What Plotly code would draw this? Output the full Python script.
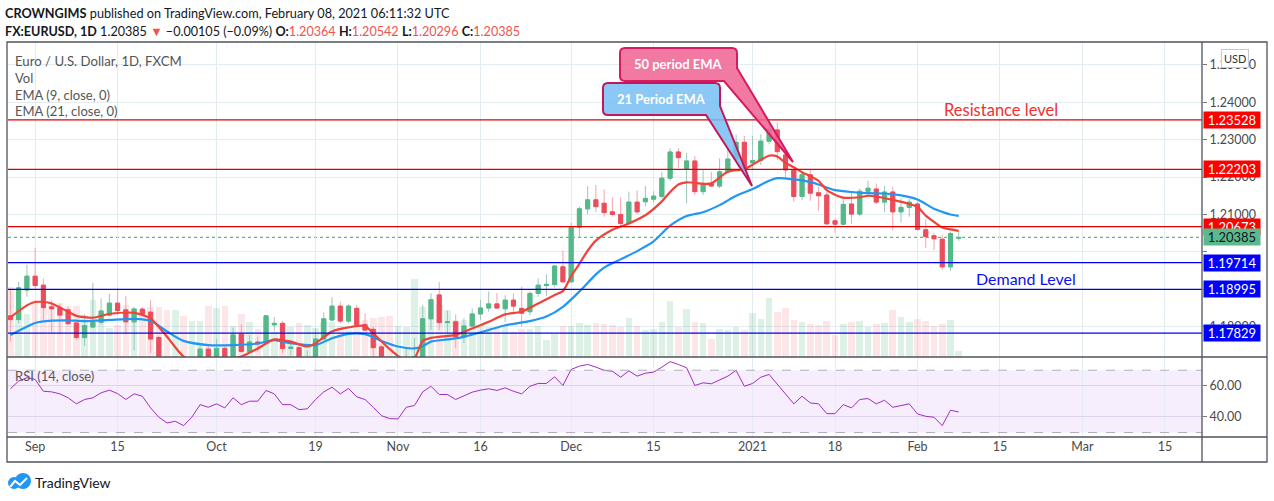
import pandas as pd
import plotly.graph_objects as go

# ---------------- DATA ----------------
holidays = ["2020-12-25", "2021-01-01"]
dates = [d.strftime("%Y-%m-%d") for d in pd.bdate_range("2020-08-27", "2021-02-08")
         if d.strftime("%Y-%m-%d") not in holidays]

opens = [
    1.1829, 1.1819, 1.1898,
    1.1935, 1.1911, 1.1853, 1.1850,
    1.1845, 1.1810, 1.1771, 1.1799, 1.1812,
    1.1831, 1.1863, 1.1845, 1.1813, 1.1847,
    1.1839, 1.1771, 1.1703, 1.1659, 1.1672,
    1.1631, 1.1667, 1.1740, 1.1721, 1.1742,
    1.1716, 1.1780, 1.1734, 1.1759, 1.1756,
    1.1805, 1.1809, 1.1742, 1.1744, 1.1706,
    1.1717, 1.1767, 1.1818, 1.1855, 1.1815,
    1.1849, 1.1806, 1.1793, 1.1746, 1.1675,
    1.1632, 1.1642, 1.1714, 1.1720, 1.1821,
    1.1885, 1.1811, 1.1813, 1.1773, 1.1802,
    1.1834, 1.1850, 1.1861, 1.1848, 1.1871,
    1.1849, 1.1840, 1.1889, 1.1910, 1.1913,
    1.1960, 1.1920, 1.2066, 1.2115, 1.2139,
    1.2130, 1.2107, 1.2100, 1.2076, 1.2133,
    1.2134, 1.2141, 1.2148, 1.2197, 1.2267,
    1.2221, 1.2243, 1.2161, 1.2182,
    1.2176, 1.2214, 1.2248, 1.2293,
    1.2238, 1.2244, 1.2296, 1.2326, 1.2259,
    1.2219, 1.2148, 1.2206, 1.2158, 1.2152,
    1.2083, 1.2074, 1.2128, 1.2101, 1.2162,
    1.2168, 1.2133, 1.2160, 1.2107, 1.2119,
    1.2128, 1.2059, 1.2043, 1.2034, 1.1960,
    1.20364]

highs = [
    1.1898, 1.1920, 1.1965,
    1.2011, 1.1928, 1.1871, 1.1861,
    1.1853, 1.1818, 1.1833, 1.1917, 1.1876,
    1.1887, 1.1903, 1.1882, 1.1853, 1.1853,
    1.1871, 1.1776, 1.1719, 1.1688, 1.1686,
    1.1681, 1.1748, 1.1751, 1.1767, 1.1748,
    1.1797, 1.1807, 1.1778, 1.1773, 1.1831,
    1.1826, 1.1815, 1.1764, 1.1750, 1.1736,
    1.1796, 1.1838, 1.1879, 1.1867, 1.1860,
    1.1858, 1.1836, 1.1800, 1.1750, 1.1707,
    1.1670, 1.1745, 1.1770, 1.1858, 1.1889,
    1.1919, 1.1842, 1.1833, 1.1822, 1.1849,
    1.1872, 1.1894, 1.1890, 1.1884, 1.1889,
    1.1907, 1.1894, 1.1929, 1.1940, 1.1965,
    1.2003, 1.2078, 1.2121, 1.2176, 1.2179,
    1.2167, 1.2146, 1.2146, 1.2161, 1.2164,
    1.2176, 1.2162, 1.2214, 1.2277, 1.2277,
    1.2264, 1.2256, 1.2219, 1.2214,
    1.2250, 1.2274, 1.2313, 1.2310,
    1.2310, 1.2315, 1.2349, 1.2345, 1.2268,
    1.2225, 1.2212, 1.2222, 1.2174, 1.2160,
    1.2090, 1.2146, 1.2157, 1.2169, 1.2190,
    1.2183, 1.2176, 1.2174, 1.2143, 1.2141,
    1.2135, 1.2087, 1.2051, 1.2046, 1.2054,
    1.20542]

lows = [
    1.1760, 1.1809, 1.1880,
    1.1898, 1.1818, 1.1787, 1.1780,
    1.1805, 1.1764, 1.1749, 1.1796, 1.1805,
    1.1827, 1.1831, 1.1782, 1.1737, 1.1827,
    1.1729, 1.1684, 1.1647, 1.1627, 1.1612,
    1.1625, 1.1660, 1.1683, 1.1713, 1.1695,
    1.1706, 1.1730, 1.1729, 1.1732, 1.1751,
    1.1787, 1.1729, 1.1724, 1.1688, 1.1690,
    1.1703, 1.1760, 1.1815, 1.1809, 1.1809,
    1.1800, 1.1787, 1.1717, 1.1650, 1.1640,
    1.1622, 1.1640, 1.1603, 1.1711, 1.1791,
    1.1791, 1.1782, 1.1742, 1.1756, 1.1798,
    1.1818, 1.1840, 1.1848, 1.1813, 1.1836,
    1.1800, 1.1830, 1.1880, 1.1882, 1.1905,
    1.1918, 1.1918, 1.2039, 1.2101, 1.2107,
    1.2094, 1.2094, 1.2067, 1.2072, 1.2100,
    1.2121, 1.2132, 1.2143, 1.2190, 1.2224,
    1.2130, 1.2152, 1.2152, 1.2173,
    1.2170, 1.2210, 1.2244, 1.2216,
    1.2220, 1.2232, 1.2288, 1.2246, 1.2197,
    1.2134, 1.2138, 1.2137, 1.2110, 1.2072,
    1.2051, 1.2070, 1.2075, 1.2095, 1.2149,
    1.2128, 1.2107, 1.2057, 1.2078, 1.2094,
    1.2057, 1.2010, 1.2005, 1.1952, 1.1950,
    1.20296]

closes = [
    1.1819, 1.1904, 1.1935,
    1.1910, 1.1851, 1.1848, 1.1831,
    1.1808, 1.1771, 1.1803, 1.1812, 1.1842,
    1.1863, 1.1843, 1.1813, 1.1847, 1.1833,
    1.1767, 1.1703, 1.1659, 1.1672, 1.1631,
    1.1667, 1.1740, 1.1721, 1.1742, 1.1716,
    1.1778, 1.1734, 1.1759, 1.1754, 1.1829,
    1.1809, 1.1742, 1.1745, 1.1706, 1.1717,
    1.1767, 1.1821, 1.1855, 1.1815, 1.1855,
    1.1805, 1.1791, 1.1744, 1.1675, 1.1646,
    1.1642, 1.1714, 1.1720, 1.1821, 1.1872,
    1.1811, 1.1813, 1.1773, 1.1802, 1.1834,
    1.1850, 1.1861, 1.1850, 1.1871, 1.1855,
    1.1836, 1.1889, 1.1911, 1.1913, 1.1962,
    1.1920, 1.2066, 1.2115, 1.2139, 1.2121,
    1.2105, 1.2100, 1.2076, 1.2133, 1.2107,
    1.2143, 1.2149, 1.2197, 1.2267, 1.2252,
    1.2243, 1.2161, 1.2183, 1.2176,
    1.2214, 1.2248, 1.2293, 1.2218,
    1.2244, 1.2296, 1.2328, 1.2268, 1.2219,
    1.2148, 1.2206, 1.2157, 1.2150, 1.2075,
    1.2074, 1.2127, 1.2101, 1.2162, 1.2170,
    1.2133, 1.2160, 1.2107, 1.2119, 1.2133,
    1.2060, 1.2041, 1.2035, 1.1960, 1.2049,
    1.20385]

volume = [
    70, 48, 43,
    57, 49, 54, 54,
    51, 51, 42, 57, 35,
    29, 32, 52, 49, 47,
    50, 50, 47, 47, 41,
    36, 36, 51, 49, 51,
    31, 43, 35, 28, 37,
    25, 34, 30, 34, 32,
    29, 35, 35, 31, 27,
    29, 37, 39, 40, 41,
    31, 30, 78, 50, 45,
    52, 47, 37, 37, 34,
    32, 30, 30, 32, 25,
    28, 28, 31, 17, 23,
    31, 31, 34, 32, 34,
    33, 32, 30, 39, 31,
    27, 28, 35, 56, 30,
    48, 35, 34, 18,
    28, 27, 30, 27,
    44, 38, 59, 45, 49,
    37, 35, 33, 32, 36,
    22, 33, 35, 36, 30,
    33, 34, 47, 40, 35,
    38, 36, 31, 33, 37,
    6]

rsi = [
    58.1, 63.0, 65.2,
    64.1, 56.5, 56.1, 54.8,
    52.3, 48.4, 51.2, 52.3, 55.5,
    57.2, 55.0, 51.2, 54.8, 53.3,
    45.8, 39.8, 36.1, 37.2, 34.4,
    39.8, 47.9, 46.2, 48.4, 45.8,
    52.3, 47.9, 50.1, 50.1, 57.0,
    54.8, 47.9, 47.9, 44.7, 45.2,
    51.2, 56.1, 59.1, 54.8, 58.3,
    52.9, 51.2, 46.2, 40.8, 38.9,
    38.7, 46.2, 47.3, 56.1, 59.7,
    54.4, 54.4, 51.2, 53.3, 55.9,
    57.2, 58.1, 57.0, 58.7, 56.5,
    54.8, 59.7, 61.5, 61.5, 65.8,
    60.2, 70.5, 72.6, 73.7, 72.0,
    69.9, 69.4, 65.5, 69.6, 66.2,
    68.1, 68.8, 72.0, 75.5, 73.7,
    71.6, 60.2, 61.9, 61.3,
    63.6, 66.2, 69.9, 59.7,
    61.5, 65.5, 67.3, 60.8, 55.0,
    48.4, 53.3, 49.0, 48.4, 42.1,
    42.1, 47.9, 45.8, 51.2, 51.8,
    48.4, 50.7, 46.2, 47.3, 48.4,
    41.9, 40.4, 39.8, 34.4, 44.3,
    43.2]

ema9_dates = ["2020-08-27", "2020-08-31", "2020-09-01", "2020-09-02", "2020-09-03", "2020-09-07",
              "2020-09-08", "2020-09-10", "2020-09-14", "2020-09-17", "2020-09-21", "2020-09-23",
              "2020-09-25", "2020-09-29", "2020-10-01", "2020-10-05", "2020-10-06", "2020-10-08",
              "2020-10-12", "2020-10-14", "2020-10-16", "2020-10-19", "2020-10-21", "2020-10-23",
              "2020-10-27", "2020-10-28", "2020-10-30", "2020-11-02", "2020-11-03", "2020-11-04",
              "2020-11-05", "2020-11-06", "2020-11-09", "2020-11-11", "2020-11-13", "2020-11-17",
              "2020-11-19", "2020-11-23", "2020-11-25", "2020-11-27", "2020-11-30", "2020-12-01",
              "2020-12-02", "2020-12-03", "2020-12-04", "2020-12-08", "2020-12-10", "2020-12-14",
              "2020-12-16", "2020-12-17", "2020-12-18", "2020-12-21", "2020-12-23", "2020-12-24",
              "2020-12-29", "2020-12-31", "2021-01-04", "2021-01-05", "2021-01-06", "2021-01-07",
              "2021-01-08", "2021-01-11", "2021-01-12", "2021-01-13", "2021-01-14", "2021-01-15",
              "2021-01-18", "2021-01-19", "2021-01-21", "2021-01-22", "2021-01-25", "2021-01-27",
              "2021-01-29", "2021-02-01", "2021-02-02", "2021-02-03", "2021-02-04", "2021-02-05",
              "2021-02-08"]
ema9_vals = [1.1825, 1.1857, 1.1866, 1.1866, 1.1862, 1.1840, 1.1829, 1.1824, 1.1834, 1.1837,
             1.1822, 1.1773, 1.1720, 1.1700, 1.1706, 1.1716, 1.1720, 1.1742, 1.1766, 1.1760,
             1.1747, 1.1756, 1.1787, 1.1798, 1.1802, 1.1782, 1.1740, 1.1722, 1.1712, 1.1716,
             1.1762, 1.1770, 1.1773, 1.1778, 1.1795, 1.1813, 1.1833, 1.1840, 1.1862, 1.1885,
             1.1895, 1.1935, 1.1968, 1.2003, 1.2030, 1.2059, 1.2076, 1.2098, 1.2135, 1.2160,
             1.2180, 1.2186, 1.2182, 1.2183, 1.2214, 1.2221, 1.2233, 1.2246, 1.2257, 1.2255,
             1.2238, 1.2226, 1.2213, 1.2202, 1.2190, 1.2165, 1.2153, 1.2145, 1.2146, 1.2150,
             1.2148, 1.2139, 1.2128, 1.2120, 1.2097, 1.2080, 1.2065, 1.2060, 1.2056]

ema21_dates = ["2020-08-27", "2020-08-31", "2020-09-01", "2020-09-03", "2020-09-07", "2020-09-09",
               "2020-09-14", "2020-09-17", "2020-09-21", "2020-09-23", "2020-09-25", "2020-09-30",
               "2020-10-05", "2020-10-08", "2020-10-12", "2020-10-14", "2020-10-19", "2020-10-21",
               "2020-10-23", "2020-10-27", "2020-10-29", "2020-11-02", "2020-11-04", "2020-11-05",
               "2020-11-06", "2020-11-10", "2020-11-12", "2020-11-17", "2020-11-19", "2020-11-24",
               "2020-11-26", "2020-11-30", "2020-12-02", "2020-12-04", "2020-12-07", "2020-12-09",
               "2020-12-11", "2020-12-15", "2020-12-17", "2020-12-21", "2020-12-23", "2020-12-28",
               "2020-12-30", "2021-01-04", "2021-01-06", "2021-01-07", "2021-01-11", "2021-01-13",
               "2021-01-14", "2021-01-15", "2021-01-18", "2021-01-20", "2021-01-22", "2021-01-26",
               "2021-01-28", "2021-02-01", "2021-02-02", "2021-02-03", "2021-02-04", "2021-02-05",
               "2021-02-08"]
ema21_vals = [1.1778, 1.1800, 1.1810, 1.1816, 1.1817, 1.1815, 1.1818, 1.1821, 1.1816, 1.1787,
              1.1762, 1.1751, 1.1751, 1.1755, 1.1764, 1.1756, 1.1751, 1.1769, 1.1781, 1.1780,
              1.1762, 1.1747, 1.1742, 1.1748, 1.1760, 1.1766, 1.1773, 1.1791, 1.1804, 1.1815,
              1.1827, 1.1853, 1.1894, 1.1940, 1.1958, 1.1980, 1.2002, 1.2028, 1.2070, 1.2096,
              1.2106, 1.2125, 1.2150, 1.2168, 1.2190, 1.2197, 1.2194, 1.2187, 1.2180, 1.2172,
              1.2165, 1.2160, 1.2157, 1.2156, 1.2151, 1.2140, 1.2128, 1.2115, 1.2107, 1.2100,
              1.2096]

resistance_levels = [1.23528, 1.22203, 1.20673]
demand_levels = [1.19714, 1.18995, 1.17829]
last_price = 1.20385

price_ticks = [1.18, 1.19, 1.20, 1.21, 1.22, 1.23, 1.24, 1.25]
price_tick_text = ["1.18000", "", "", "1.21000", "1.22000", "1.23000", "1.24000", "1.25000"]
x_tick_dates = ["2020-09-01", "2020-09-15", "2020-10-01", "2020-10-19", "2020-11-02", "2020-11-16",
                "2020-12-01", "2020-12-15", "2021-01-04", "2021-01-18", "2021-02-01", "2021-02-15",
                "2021-03-01", "2021-03-15"]
x_tick_text = ["Sep", "15", "Oct", "19", "Nov", "16", "Dec", "15", "2021", "18", "Feb", "15", "Mar", "15"]

assert len(dates) == len(opens) == len(highs) == len(lows) == len(closes) == len(volume) == len(rsi)

# ---------------- STYLE ----------------
FONT = "Lato, 'Open Sans', sans-serif"
UP, DOWN = "#53b987", "#eb4d5c"
UP_WICK, DOWN_WICK = "#9cc5bc", "#f4a3aa"
GRID = "#e3ecf1"
FRAME = "#50535e"
TXT = "#4a4a4a"

W, H = 1274, 501
ML, MR, MT, MB = 8, 72, 42, 64


def PX(px):
    return (px - ML) / (W - ML - MR)


def PY(py):
    return (H - MB - py) / (H - MT - MB)


rsi_top = PY(357)
x_range = ["2020-08-26 17:00", "2021-03-19 12:00"]
rbreaks = [dict(bounds=["sat", "mon"]), dict(values=holidays)]

fig = go.Figure()

vol_colors = ["rgba(83,185,135,0.2)" if c >= o else "rgba(235,77,92,0.14)" for o, c in zip(opens, closes)]
fig.add_trace(go.Bar(x=dates, y=volume, marker=dict(color=vol_colors, line=dict(width=0)),
                     width=0.8 * 86400000, xaxis="x", yaxis="y", hoverinfo="skip"))

fig.add_trace(go.Candlestick(x=dates, open=opens, high=highs, low=lows, close=closes,
                             xaxis="x", yaxis="y3", hoverinfo="skip",
                             increasing=dict(line=dict(color=UP_WICK, width=1), fillcolor=UP_WICK),
                             decreasing=dict(line=dict(color=DOWN_WICK, width=1), fillcolor=DOWN_WICK)))
body_hi = [max(o, c) for o, c in zip(opens, closes)]
body_lo = [min(o, c) for o, c in zip(opens, closes)]
fig.add_trace(go.Candlestick(x=dates, open=opens, high=body_hi, low=body_lo, close=closes,
                             xaxis="x", yaxis="y3", hoverinfo="skip",
                             increasing=dict(line=dict(color=UP, width=1), fillcolor=UP),
                             decreasing=dict(line=dict(color=DOWN, width=1), fillcolor=DOWN)))

fig.add_trace(go.Scatter(x=ema21_dates, y=ema21_vals, mode="lines", xaxis="x", yaxis="y3",
                         line=dict(color="#2196f3", width=2.2, shape="spline", smoothing=0.7),
                         hoverinfo="skip"))
fig.add_trace(go.Scatter(x=ema9_dates, y=ema9_vals, mode="lines", xaxis="x", yaxis="y3",
                         line=dict(color="#f0433a", width=2.2, shape="spline", smoothing=0.7),
                         hoverinfo="skip"))

fig.add_trace(go.Scatter(x=dates, y=rsi, mode="lines", xaxis="x2", yaxis="y2",
                         line=dict(color="#a02fbf", width=1), hoverinfo="skip"))

shapes = []
# RSI band
shapes.append(dict(type="rect", xref="paper", yref="y2", x0=0, x1=1, y0=30, y1=70,
                   fillcolor="rgba(170,80,235,0.10)", line=dict(width=0), layer="below"))
for lv in (70, 30):
    shapes.append(dict(type="line", xref="paper", yref="y2", x0=0, x1=1, y0=lv, y1=lv,
                       line=dict(color="#b3adbd", width=1, dash="dash")))
# last price dotted line
shapes.append(dict(type="line", xref="paper", yref="y3", x0=0, x1=1, y0=last_price, y1=last_price,
                   line=dict(color="#53b987", width=1.2, dash="dot"), layer="below"))
# level lines
for lv in resistance_levels:
    shapes.append(dict(type="line", xref="paper", yref="y3", x0=0, x1=1, y0=lv, y1=lv,
                       line=dict(color="#e50000", width=1.3)))
for lv in demand_levels:
    shapes.append(dict(type="line", xref="paper", yref="y3", x0=0, x1=1, y0=lv, y1=lv,
                       line=dict(color="#0000f0", width=1.3)))
# frame
shapes.append(dict(type="rect", xref="paper", yref="paper", x0=PX(7), x1=PX(1267), y0=PY(462), y1=PY(42),
                   line=dict(color=FRAME, width=1.3)))
shapes.append(dict(type="line", xref="paper", yref="paper", x0=1, x1=1, y0=PY(462), y1=PY(42),
                   line=dict(color=FRAME, width=1.3)))
for py in (357, 437):
    shapes.append(dict(type="line", xref="paper", yref="paper", x0=PX(7), x1=PX(1267), y0=PY(py), y1=PY(py),
                       line=dict(color=FRAME, width=1.3)))


def bubble(x0, y0, x1, y1, r, tail):
    (rx, ry), (tx, ty), (lx, ly) = tail
    pts = [("M", x0 + r, y0), ("L", x1 - r, y0), ("Q", x1, y0, x1, y0 + r), ("L", rx, ry),
           ("L", tx, ty), ("L", lx, ly), ("L", x0 + r, y1), ("Q", x0, y1, x0, y1 - r),
           ("L", x0, y0 + r), ("Q", x0, y0, x0 + r, y0)]
    s = ""
    for p in pts:
        if p[0] == "Q":
            s += "Q %.5f,%.5f %.5f,%.5f " % (PX(p[1]), PY(p[2]), PX(p[3]), PY(p[4]))
        else:
            s += "%s %.5f,%.5f " % (p[0], PX(p[1]), PY(p[2]))
    return s + "Z"


shapes.append(dict(type="path", xref="paper", yref="paper",
                   path=bubble(620, 48, 737, 81, 5, [(737, 68), (793, 162), (724, 81)]),
                   fillcolor="rgba(240,98,146,0.85)", line=dict(color="#d81b60", width=2)))
shapes.append(dict(type="path", xref="paper", yref="paper",
                   path=bubble(603, 83, 720, 115, 5, [(720, 106), (752, 186), (706, 115)]),
                   fillcolor="rgba(120,190,245,0.85)", line=dict(color="#c2185b", width=2)))

# TradingView logo (simple cloud)
shapes.append(dict(type="circle", xref="paper", yref="paper", x0=PX(8), x1=PX(20), y0=PY(489), y1=PY(477),
                   fillcolor="#2196f3", line=dict(width=0)))
shapes.append(dict(type="circle", xref="paper", yref="paper", x0=PX(15), x1=PX(31), y0=PY(489), y1=PY(473),
                   fillcolor="#2196f3", line=dict(width=0)))
shapes.append(dict(type="path", xref="paper", yref="paper",
                   path="M %f,%f L %f,%f L %f,%f L %f,%f" % (PX(10), PY(487), PX(15), PY(481), PX(20), PY(485), PX(27), PY(478)),
                   line=dict(color="white", width=2)))

ann = []


def text(px, py, s, size=13, color=TXT, anchor="left", **kw):
    ann.append(dict(xref="paper", yref="paper", x=PX(px), y=PY(py), text=s, showarrow=False,
                    xanchor=anchor, yanchor="middle", font=dict(family=FONT, size=size, color=color), **kw))


text(3, 13, "<b>CROWNGIMS</b> published on TradingView.com, February 08, 2021 06:11:32 UTC", 12.7, "#131722")
red = "#ef5350"
text(3, 31, "<b>FX:EURUSD, 1D</b> 1.20385 <span style='color:%s'>▼</span> −0.00105 (−0.09%%) "
            "<b>O:</b><span style='color:%s'>1.20364</span> <b>H:</b><span style='color:%s'>1.20542</span> "
            "<b>L:</b><span style='color:%s'>1.20296</span> <b>C:</b><span style='color:%s'>1.20385</span>"
     % (red, red, red, red, red), 12.6, "#131722")
text(13, 61, "Euro / U.S. Dollar, 1D, FXCM", 13.2, "#555555")
text(13, 78, "Vol", 13, "#555555")
text(13, 95, "EMA (9, close, 0)", 13, "#555555")
text(13, 111, "EMA (21, close, 0)", 13, "#555555")
text(13, 376, "RSI (14, close)", 13, "#555555")
text(33, 482, "TradingView", 14, "#131722")
text(678, 64, "<b>50 period EMA</b>", 13, "white", anchor="center")
text(661, 99, "<b>21 Period EMA</b>", 13, "white", anchor="center")
text(1001, 110, "Resistance level", 16.5, "#f03030", anchor="center")
text(1026, 278, "Demand Level", 16, "#1010ee", anchor="center")

# price tags on the right axis
for lv in resistance_levels:
    ann.append(dict(xref="paper", yref="y3", x=1, y=lv, text="%.5f" % lv, showarrow=False, xanchor="left",
                    yanchor="middle", xshift=1, bgcolor="#ff0000", width=54, height=14, borderpad=1,
                    font=dict(family=FONT, size=13, color="white")))
for lv in demand_levels:
    ann.append(dict(xref="paper", yref="y3", x=1, y=lv, text="%.5f" % lv, showarrow=False, xanchor="left",
                    yanchor="middle", xshift=1, bgcolor="#0000ff", width=54, height=14, borderpad=1,
                    font=dict(family=FONT, size=13, color="white")))
ann.append(dict(xref="paper", yref="y3", x=1, y=last_price, text="%.5f" % last_price, showarrow=False,
                xanchor="left", yanchor="middle", xshift=1, bgcolor="#5cb98d", width=54, height=14, borderpad=1,
                font=dict(family=FONT, size=13, color="#131722")))
ann.append(dict(xref="paper", yref="paper", x=PX(1235), y=PY(58), text="USD", showarrow=False,
                xanchor="center", yanchor="middle", bgcolor="white", bordercolor="#c8cad0", borderwidth=1,
                borderpad=2, font=dict(family=FONT, size=11, color="#333333")))

tickfont = dict(family=FONT, size=12.5, color=TXT)
fig.update_layout(
    width=W, height=H, margin=dict(l=ML, r=MR, t=MT, b=MB),
    paper_bgcolor="white", plot_bgcolor="white", showlegend=False,
    font=dict(family=FONT), bargap=0,
    xaxis=dict(domain=[0, 1], anchor="y", range=x_range, rangebreaks=rbreaks, tickvals=x_tick_dates,
               showticklabels=False, showgrid=True, gridcolor=GRID, zeroline=False, showline=False,
               rangeslider=dict(visible=False), matches="x2"),
    yaxis=dict(domain=[rsi_top, 1], range=[0, 315], visible=False, showgrid=False, fixedrange=True),
    yaxis3=dict(overlaying="y", anchor="x", side="right", range=[1.1719, 1.2561], tickvals=price_ticks,
                ticktext=price_tick_text, showgrid=True, gridcolor=GRID, zeroline=False,
                ticks="outside", ticklen=4, tickcolor="#777777", tickfont=tickfont, showline=False),
    xaxis2=dict(domain=[0, 1], anchor="y2", range=x_range, rangebreaks=rbreaks, tickvals=x_tick_dates,
                ticktext=x_tick_text, showgrid=True, gridcolor=GRID, zeroline=False, showline=False,
                tickfont=tickfont, ticks="", rangeslider=dict(visible=False)),
    yaxis2=dict(domain=[0, rsi_top], anchor="x2", side="right", range=[27.1, 78.5], tickvals=[40, 60],
                ticktext=["40.00", "60.00"], showgrid=True, gridcolor="#ddd3ee", zeroline=False,
                ticks="outside", ticklen=4, tickcolor="#777777", tickfont=tickfont, showline=False),
    shapes=shapes, annotations=ann,
)

fig.write_html("out.html", config={"displayModeBar": False},
               post_script="document.body.style.margin='0px';document.body.style.overflow='hidden';")
